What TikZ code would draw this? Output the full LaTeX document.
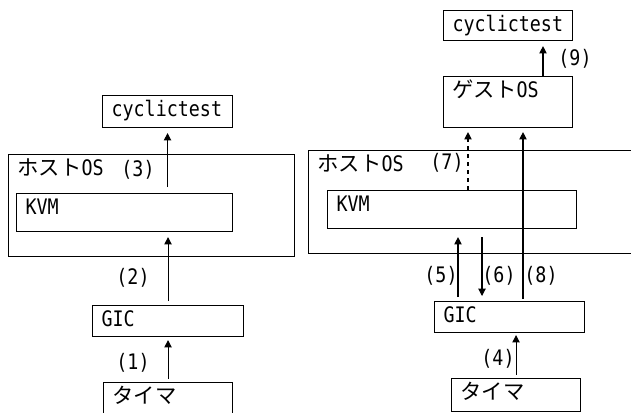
\documentclass[tikz,border=0pt]{standalone}
\usepackage{fontspec}
\setmainfont{DejaVu Sans Mono}[FakeStretch=0.86]
\newfontfamily\jp{Noto Sans CJK JP}
\usepackage{tikz}
\usetikzlibrary{arrows.meta,positioning}
\tikzset{
  box/.style  = {draw, anchor=north west, inner sep=0pt, line width=0.8pt},
  tag/.style  = {anchor=base west, xshift=7pt, yshift=-15.75pt, inner sep=0pt},
  num/.style  = {inner sep=0pt},
  ar/.style   = {-{Triangle[length=5.5pt,width=5.5pt]}, line width=0.8pt},
  ard/.style  = {ar, dashed}
}
\newcommand{\kana}[1]{{\jp #1}}

\begin{document}
\begin{tikzpicture}[x=0.75pt, y=-0.75pt, font=\fontsize{16pt}{19pt}\selectfont]
\useasboundingbox (0,0) rectangle (631,412);
\clip (0,0) rectangle (631,412);

% ---------------- host only ----------------
\node[box, minimum width=97.5pt, minimum height=24pt,
      label={[tag]north west:cyclictest}] (cyc1) at (102,95) {};
\node[box, minimum width=214.5pt, minimum height=76.5pt,
      label={[tag]north west:\kana{ホスト}OS}] (host1) at (8,154) {};
\node[box, minimum width=162pt, minimum height=28.5pt,
      label={[tag]north west:KVM}] (kvm1) at (16,193) {};
\node[box, minimum width=113.25pt, minimum height=23.25pt,
      label={[tag]north west:GIC}] (gic1) at (92,305) {};
\node[box, minimum width=96.75pt, minimum height=24.75pt,
      label={[tag]north west:\kana{タイマ}}] (tim1) at (103,382) {};

\draw[ar, shorten <=2.25pt, shorten >=2.25pt] (tim1.north) -- (gic1.south);
\draw[ar, shorten <=3pt, shorten >=3.75pt] (gic1.north) -- (gic1.north |- kvm1.south);
\draw[ar, shorten <=4.5pt, shorten >=3.75pt] (cyc1.south |- kvm1.north) -- (cyc1.south);

\node[num] (n1) at (133,363) {(1)};
\node[num] (n2) at (133,278) {(2)};
\node[num] (n3) at (138,170) {(3)};

% ---------------- with guest ----------------
\node[box, minimum width=96.75pt, minimum height=22.5pt,
      label={[tag]north west:cyclictest}] (cyc2) at (443,10) {};
\node[box, minimum width=96.75pt, minimum height=38.25pt,
      label={[tag]north west:\kana{ゲスト}OS}] (guest) at (443,76) {};
\node[box, minimum width=255pt, minimum height=77.25pt,
      label={[tag]north west:\kana{ホスト}OS}] (host2) at (308,150) {};
\node[box, minimum width=186.75pt, minimum height=28.5pt,
      label={[tag]north west:KVM}] (kvm2) at (327,190) {};
\node[box, minimum width=112.5pt, minimum height=23.25pt,
      label={[tag]north west:GIC}] (gic2) at (434,301) {};
\node[box, minimum width=96.75pt, minimum height=24.75pt,
      label={[tag]north west:\kana{タイマ}}] (tim2) at (451,378) {};

\coordinate (p5) at ([xshift=18pt]gic2.north west);
\coordinate (p6) at ([xshift=36pt]gic2.north west);
\coordinate (p8) at ([xshift=66.75pt]gic2.north west);
\coordinate (p7) at ([xshift=18.75pt]guest.south west);
\coordinate (p9) at ([xshift=75pt]guest.north west);

\draw[ar, shorten <=2.5pt, shorten >=1.5pt] (tim2.north) -- (tim2.north |- gic2.south);
\draw[ar, shorten <=3pt, shorten >=6pt] (p5) -- (p5 |- kvm2.south);
\draw[ar, shorten <=6pt, shorten >=3.75pt] (p6 |- kvm2.south) -- (p6);
\draw[ard, shorten >=3pt] (p7 |- kvm2.north) -- (p7);
\draw[ar, shorten <=1.5pt, shorten >=3pt] (p8) -- (p8 |- guest.south);
\draw[ar, shorten >=3.75pt] (p9) -- (p9 |- cyc2.south);

\node[num] (n4) at (498,359) {(4)};
\node[num] (n5) at (441,276) {(5)};
\node[num] (n6) at (499,276) {(6)};
\node[num] (n7) at (447,163) {(7)};
\node[num] (n8) at (541,276) {(8)};
\node[num] (n9) at (575,59) {(9)};
\end{tikzpicture}
\end{document}
